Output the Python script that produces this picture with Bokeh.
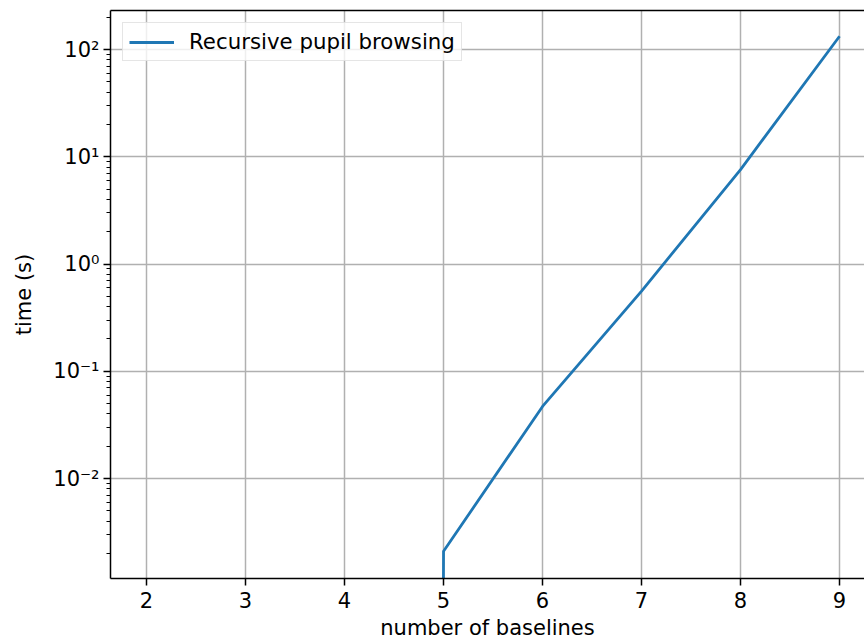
from bokeh.plotting import figure
from bokeh.models import (FixedTicker, CustomJSTickFormatter, LinearAxis, Legend,
                          LegendItem, Range1d)
from bokeh.embed import file_html
from bokeh.resources import INLINE

# ---- data ----
baselines = [2, 3, 4, 5, 6, 7, 8, 9]
times = [0.0, 0.0, 0.0, 0.0021, 0.047, 0.56, 7.6, 133.0]
series_label = "Recursive pupil browsing"
x_ticks = [2, 3, 4, 5, 6, 7, 8, 9]
y_decades = [-2, -1, 0, 1, 2]

# matplotlib-like clipping of non-positive values on a log axis
TINY = 1e-300
times_plot = [v if v > 0 else TINY for v in times]

FONT = "DejaVu Sans"
FS = "21px"

p = figure(width=864, height=642, y_axis_type="log",
           x_range=Range1d(1.636, 9.252), y_range=Range1d(1.17e-3, 231),
           output_backend="svg", toolbar_location=None,
           min_border_left=110, min_border_right=0, min_border_top=10,
           min_border_bottom=64)
p.outline_line_color = None
p.background_fill_color = "white"
p.border_fill_color = "white"

r = p.line(baselines, times_plot, line_color="#1f77b4", line_width=2.8)

# ticks
major_y = [10.0 ** d for d in y_decades]
minor_y = [m * 10.0 ** d for d in range(min(y_decades) - 1, max(y_decades) + 1) for m in range(2, 10)]
p.yaxis.ticker = FixedTicker(ticks=major_y, minor_ticks=minor_y)
p.xaxis.ticker = FixedTicker(ticks=x_ticks)
p.yaxis.formatter = CustomJSTickFormatter(code="""
const sup = {"-":"\u207b","0":"\u2070","1":"\u00b9","2":"\u00b2","3":"\u00b3","4":"\u2074","5":"\u2075","6":"\u2076","7":"\u2077","8":"\u2078","9":"\u2079"};
const e = Math.round(Math.log10(tick));
return "10" + String(e).split("").map(c => sup[c]).join("");
""")

for ax in (p.xaxis[0], p.yaxis[0]):
    ax.axis_line_color = "black"
    ax.axis_line_width = 1.5
    ax.major_tick_line_color = "black"
    ax.major_tick_line_width = 1.5
    ax.major_tick_out = 7
    ax.major_tick_in = 0
    ax.minor_tick_line_color = "black"
    ax.minor_tick_line_width = 1.2
    ax.minor_tick_out = 4
    ax.minor_tick_in = 0
    ax.major_label_text_font = FONT
    ax.major_label_text_font_size = FS
    ax.major_label_text_color = "black"
    ax.axis_label_text_font = FONT
    ax.axis_label_text_font_size = FS
    ax.axis_label_text_font_style = "normal"
    ax.axis_label_text_color = "black"

p.xaxis.minor_tick_line_color = None
p.xaxis.axis_label = "number of baselines"
p.yaxis.axis_label = "time (s)"
p.xaxis.major_label_standoff = 6
p.xaxis.axis_label_standoff = 5
p.yaxis.major_label_standoff = 4
p.yaxis.axis_label_standoff = 14

# top spine
top = LinearAxis(ticker=FixedTicker(ticks=[]), axis_line_color="black", axis_line_width=1.5,
                 major_label_text_font_size="0px")
p.add_layout(top, "above")

# grid
p.xgrid.ticker = FixedTicker(ticks=x_ticks)
p.ygrid.ticker = FixedTicker(ticks=major_y)
for g in (p.xgrid[0], p.ygrid[0]):
    g.grid_line_color = "#b0b0b0"
    g.grid_line_width = 1.5

legend = Legend(items=[LegendItem(label=series_label, renderers=[r])],
                location="top_left", margin=12, padding=6, spacing=0,
                glyph_width=45, glyph_height=24, label_standoff=15,
                label_text_font=FONT, label_text_font_size="21.3px", label_text_color="black",
                border_line_color="#cccccc", border_line_width=1.2,
                background_fill_color="white", background_fill_alpha=0.8)
p.add_layout(legend, "center")

open("out.html", "w").write(file_html(p, INLINE))
